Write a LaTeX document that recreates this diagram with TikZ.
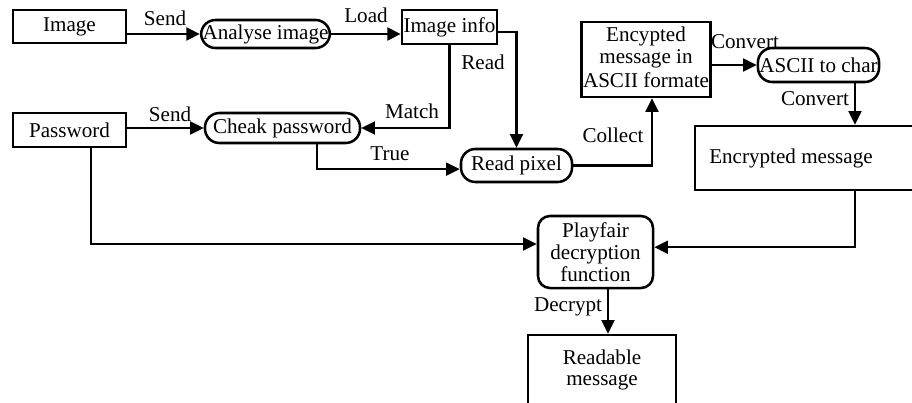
\documentclass[tikz,border=0pt]{standalone}
\usepackage{fontspec}
\setmainfont{Liberation Serif}
\usetikzlibrary{arrows.meta,calc}

\tikzset{
    flow/.style={line width=1.8pt, -{Triangle[length=0.34cm,width=0.32cm]}},
    blk/.style={draw, line width=1.8pt, rectangle, inner sep=1pt, align=center},
    pill/.style={blk, rounded corners=0.36cm},
    rblk/.style={blk, rounded corners=0.3cm},
    lbl/.style={inner sep=0pt}
}

\begin{document}
\begin{tikzpicture}[x=0.025cm, y=-0.025cm, font=\fontsize{15}{15.5}\selectfont]
        \useasboundingbox (0,0) rectangle (912,402);
        \clip (0,0) rectangle (912,402);

        % top row
        \node[blk, minimum width=2.825cm, minimum height=0.825cm] (img) at (69.5,26.5) {Image};
        \node[pill, minimum width=3.125cm, minimum height=0.7cm] (analyse) at (265.5,34) {Analyse image};
        \node[blk, minimum width=2.225cm, minimum height=0.85cm] (info) at (449.5,27) {Image info};

        % password row
        \node[blk, minimum width=2.825cm, minimum height=0.85cm] (pwd) at (69.5,130) {Password};
        \node[pill, minimum width=3.875cm, minimum height=0.75cm] (cheak) at (282.5,128) {Cheak password};
        \node[pill, minimum width=2.775cm, minimum height=0.825cm] (pixel) at (516.5,165.5) {Read pixel};

        % right side
        \node[blk, minimum width=3.05cm, minimum height=1.875cm] (ascii) at (646,59.5) {\raisebox{0.12cm}{\shortstack{Encypted\\message in\\ASCII formate}}};
        \node[pill, minimum width=2.425cm, minimum height=0.85cm] (achar) at (818.5,65) {ASCII to char};
        \node[blk, minimum width=6cm, minimum height=1.6cm,
            label={[lbl, xshift=-0.6cm]center:Encrypted message}] (encm) at (815,158) {};

        % bottom
        \node[rblk, minimum width=2.875cm, minimum height=1.8cm] (play) at (595.5,252) {Playfair\\decryption\\function};
        \node[blk, minimum width=3.7cm, minimum height=1.75cm] (readable) at (602,370) {Readable\\message};

        % connectors
        \draw[flow] (img.east |- analyse.west) -- (analyse.west);
        \draw[flow] (analyse.east) -- (analyse.east -| info.west);
        \draw[flow] ([yshift=-0.12cm]info.east) -| (pixel.north);
        \draw[flow] (info.south) |- (cheak.east);
        \draw[flow] (pwd.east |- cheak.west) -- (cheak.west);
        \draw[flow] ($(cheak.south)+(34.5,0)$) |- ([yshift=-0.09cm]pixel.west);
        \draw[flow] (pixel.east) -| ($(ascii.south)+(6,0)$);
        \draw[flow] (ascii.east |- achar.west) -- (achar.west);
        \coordinate (down) at ($(achar.south)+(36.5,0)$);
        \draw[flow] (down) -- (down |- encm.north);
        \draw[flow] (down |- encm.south) |- ([yshift=0.12cm]play.east);
        \draw[flow] ($(pwd.south)+(21.5,0)$) |- ([yshift=0.2cm]play.west);
        \coordinate (dec) at ($(play.south)+(12.5,0)$);
        \draw[flow] (dec) -- (dec |- readable.north);

        % labels
        \node[lbl] (l1) at (165,18) {Send};
        \node[lbl] (l2) at (366,15) {Load};
        \node[lbl] (l3) at (483,62) {Read};
        \node[lbl] (l4) at (412,111) {Match};
        \node[lbl] (l5) at (170,114) {Send};
        \node[lbl] (l6) at (390,154) {True};
        \node[lbl] (l7) at (613,135) {Collect};
        \node[lbl] (l8) at (745,42) {Convert};
        \node[lbl] (l9) at (815,99) {Convert};
        \node[lbl] (l10) at (568,307) {Decrypt};
    \end{tikzpicture}
\end{document}
